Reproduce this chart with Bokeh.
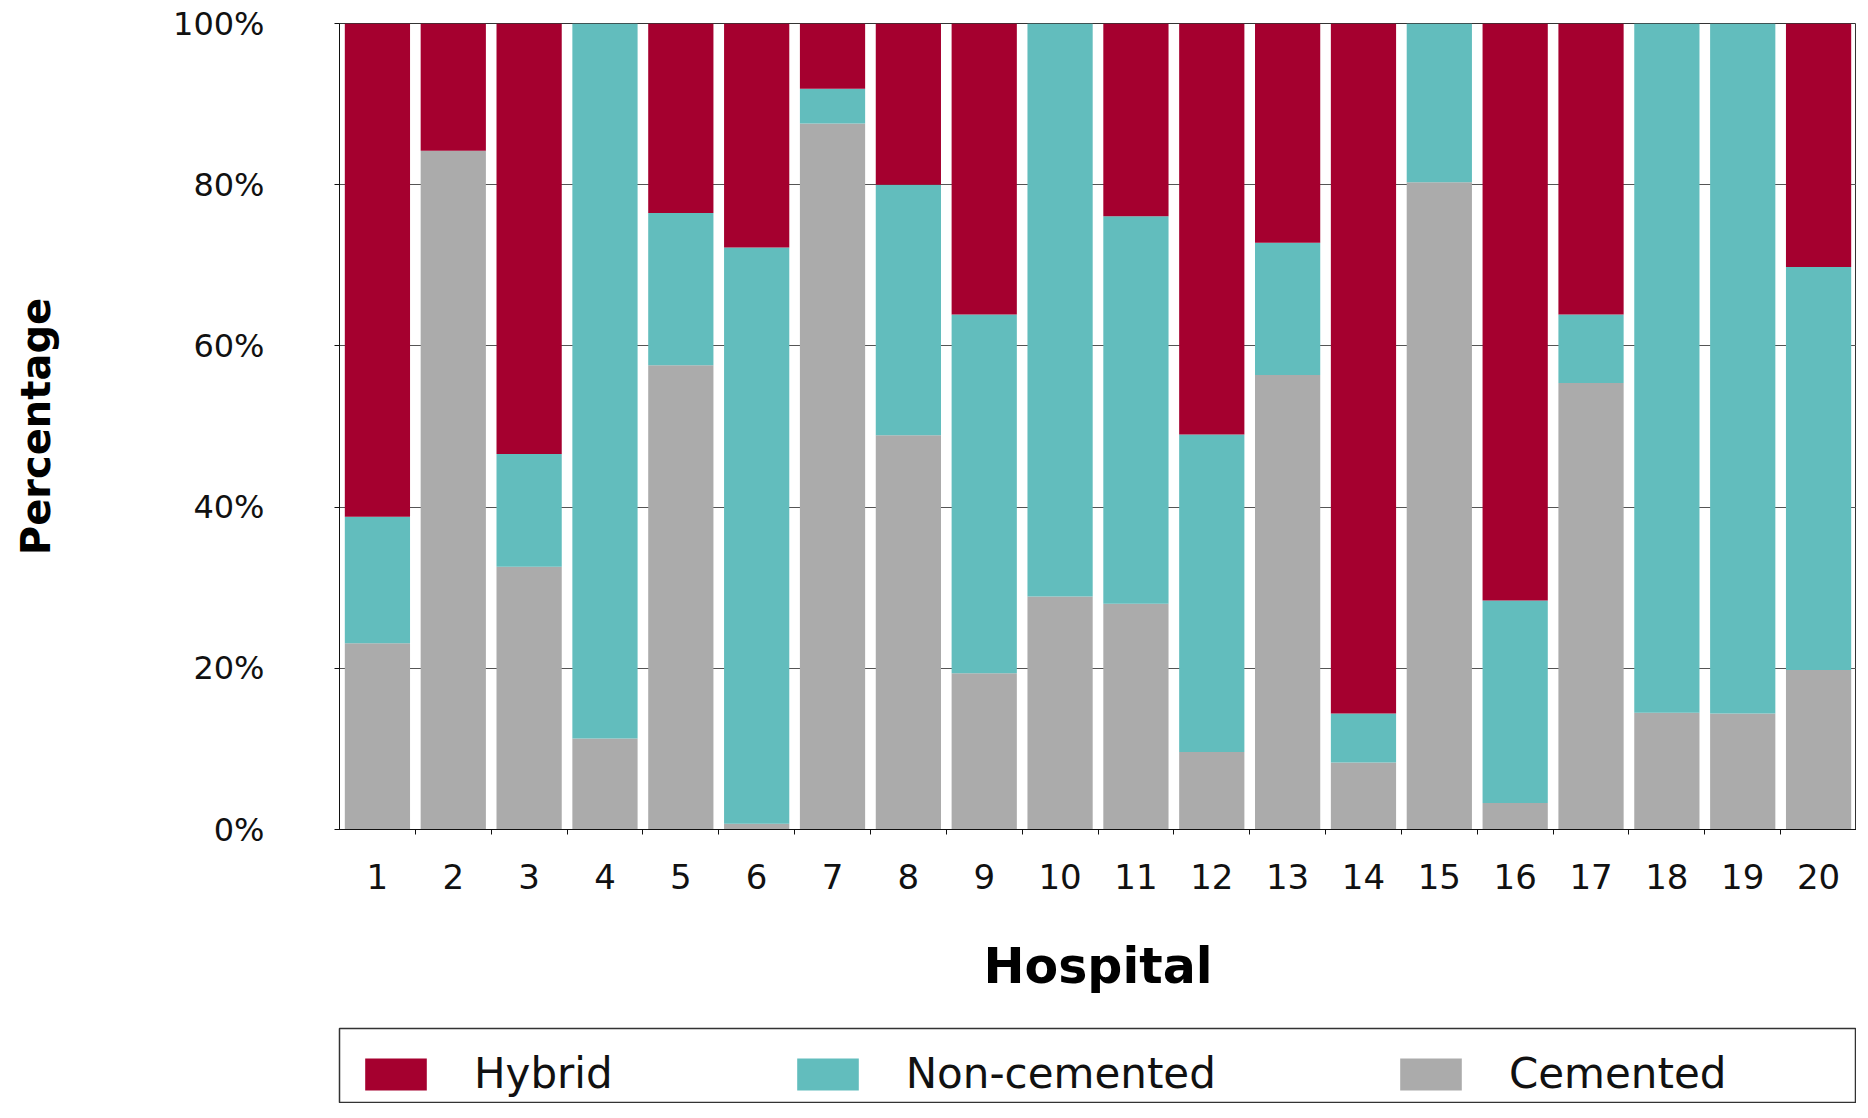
from bokeh.plotting import figure
from bokeh.layouts import column
from bokeh.models import ColumnDataSource, FixedTicker, Legend, LegendItem, Range1d
from bokeh.embed import file_html
from bokeh.resources import INLINE

hospitals = ["1", "2", "3", "4", "5", "6", "7", "8", "9", "10",
             "11", "12", "13", "14", "15", "16", "17", "18", "19", "20"]
cemented = [23.1, 84.2, 32.6, 11.3, 57.6, 0.7, 87.6, 48.9, 19.4, 28.9,
            28.0, 9.6, 56.4, 8.3, 80.3, 3.3, 55.4, 14.5, 14.4, 19.8]
non_cemented = [15.7, 0.0, 14.0, 88.7, 18.9, 71.5, 4.3, 31.1, 44.5, 71.1,
                48.1, 39.4, 16.4, 6.1, 19.7, 25.1, 8.5, 85.5, 85.6, 50.0]
hybrid = [61.2, 15.8, 53.4, 0.0, 23.5, 27.8, 8.1, 20.0, 36.1, 0.0,
          23.9, 51.0, 27.2, 85.6, 0.0, 71.6, 36.1, 0.0, 0.0, 30.2]
y_ticks = [0, 20, 40, 60, 80, 100]
y_tick_labels = ["0%", "20%", "40%", "60%", "80%", "100%"]

series_names = ["Cemented", "Non-cemented", "Hybrid"]
series_keys = ["cemented", "non_cemented", "hybrid"]
colors = ["#ababab", "#62bdbd", "#a5002f"]

positions = [i + 1 for i in range(len(hospitals))]
src = ColumnDataSource(dict(x=positions, cemented=cemented,
                            non_cemented=non_cemented, hybrid=hybrid))

W = 1856
p = figure(width=W, height=1027, output_backend="svg", toolbar_location=None,
           x_range=Range1d(0.5, len(hospitals) + 0.5), y_range=Range1d(0, 100),
           min_border_left=339, min_border_top=23, min_border_right=0,
           min_border_bottom=198)
p.background_fill_color = "white"
p.border_fill_color = "white"
p.outline_line_color = "#333333"
p.outline_line_width = 1

renderers = p.vbar_stack(series_keys, x="x", width=0.86, color=colors,
                         line_color=None, source=src)

p.xgrid.visible = False
p.ygrid.ticker = FixedTicker(ticks=y_ticks)
p.ygrid.grid_line_color = "#555555"
p.ygrid.grid_line_width = 1.2

yax = p.yaxis[0]
yax.ticker = FixedTicker(ticks=y_ticks)
yax.major_label_overrides = {t: l for t, l in zip(y_ticks, y_tick_labels)}
yax.major_tick_out = 5
yax.major_tick_in = 0
yax.minor_tick_out = 0
yax.minor_tick_in = 0
yax.axis_line_color = "#111111"
yax.major_tick_line_color = "#111111"
yax.major_label_standoff = 70
yax.major_label_text_font = "DejaVu Sans"
yax.major_label_text_font_size = "32px"
yax.major_label_text_color = "#111111"
yax.axis_label = "Percentage"
yax.axis_label_text_font = "DejaVu Sans"
yax.axis_label_text_font_style = "bold"
yax.axis_label_text_font_size = "40px"
yax.axis_label_text_color = "#000000"
yax.axis_label_standoff = 111

xax = p.xaxis[0]
xax.ticker = FixedTicker(ticks=positions,
                         minor_ticks=[x + 0.5 for x in positions[:-1]])
xax.major_label_overrides = {x: h for x, h in zip(positions, hospitals)}
xax.major_tick_out = 0
xax.major_tick_in = 0
xax.minor_tick_out = 5
xax.minor_tick_in = 0
xax.minor_tick_line_color = "#111111"
xax.axis_line_color = "#111111"
xax.major_label_standoff = 29
xax.major_label_text_font = "DejaVu Sans"
xax.major_label_text_font_size = "34px"
xax.major_label_text_color = "#111111"
xax.axis_label = "Hospital"
xax.axis_label_text_font = "DejaVu Sans"
xax.axis_label_text_font_style = "bold"
xax.axis_label_text_font_size = "49px"
xax.axis_label_text_color = "#000000"
xax.axis_label_standoff = 46

# legend strip below the chart
p2 = figure(width=W, height=76, output_backend="svg", toolbar_location=None,
            x_range=Range1d(0.5, len(hospitals) + 0.5), y_range=Range1d(1000, 1100),
            x_axis_location=None, y_axis_location=None,
            min_border_left=329, min_border_top=1, min_border_right=0,
            min_border_bottom=0)
p2.grid.visible = False
p2.background_fill_color = "white"
p2.border_fill_color = "white"
p2.outline_line_color = "#333333"
p2.outline_line_width = 1.5
dummy = p2.vbar_stack(series_keys, x="x", width=0.86, color=colors,
                      line_color=None, source=src)

order = [2, 1, 0]
items = [LegendItem(label=series_names[i], renderers=[dummy[i]]) for i in order]
legend = Legend(items=items, orientation="horizontal", location=(18, 5),
                glyph_width=77, glyph_height=40, label_standoff=40, spacing=176,
                padding=0, margin=0,
                label_text_font="DejaVu Sans", label_text_font_size="42px",
                label_text_color="#111111",
                border_line_color=None, background_fill_alpha=0)
p2.add_layout(legend, "center")

layout = column(p, p2, spacing=0)
open("out.html", "w").write(file_html(layout, INLINE))
